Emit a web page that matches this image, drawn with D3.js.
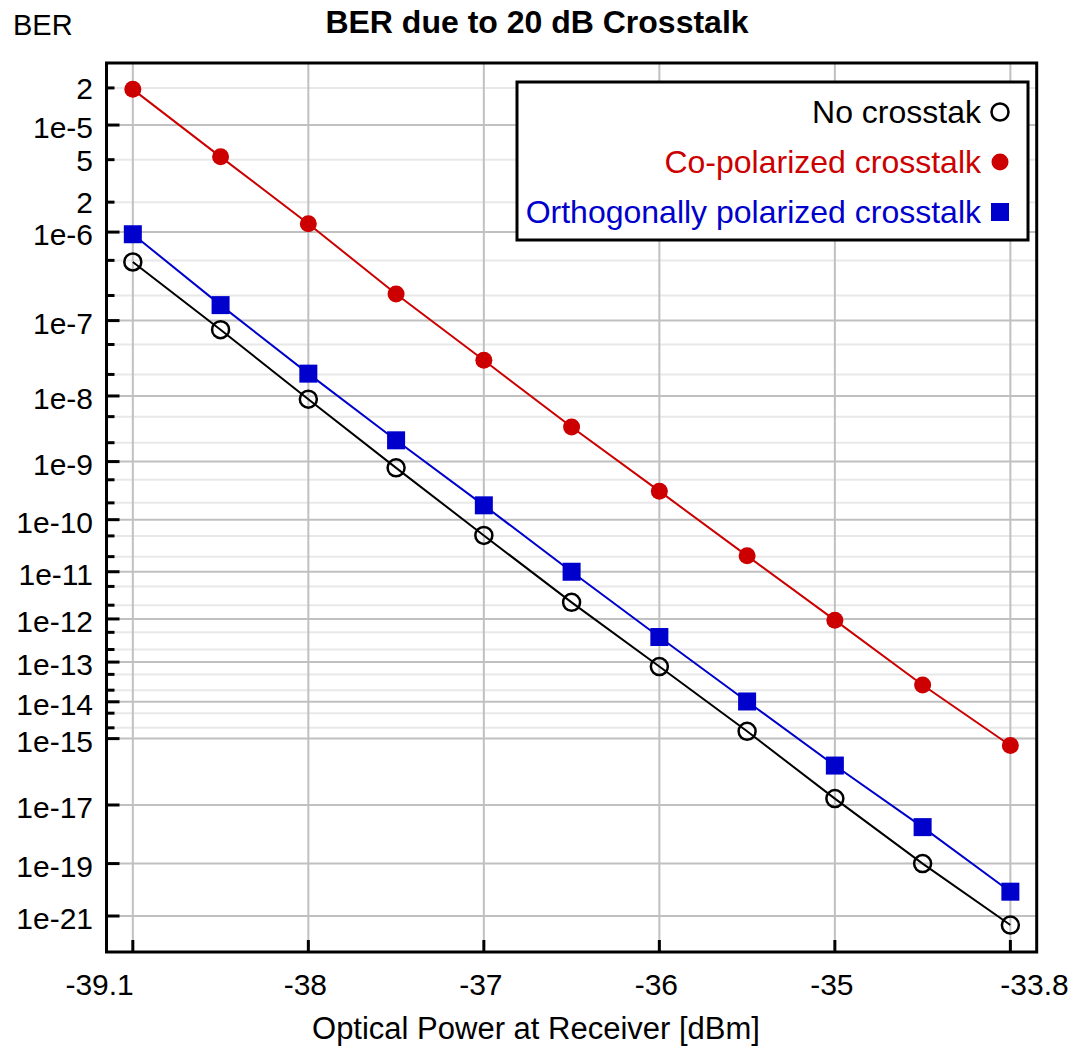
<!DOCTYPE html>
<html>
<head>
<meta charset="utf-8">
<script src="https://cdn.jsdelivr.net/npm/d3@7"></script>
<style>
  body { margin: 0; background: #fff; }
  svg { display: block; font-family: "Liberation Sans", Arial, sans-serif; }
</style>
</head>
<body>
<div id="chart"></div>
<script>
// optical power at receiver [dBm]
const powers = [-39, -38.5, -38, -37.5, -37, -36.5, -36, -35.5, -35, -34.5, -34];

// BER
const noCrosstalk = [4.8e-7, 7.7e-8, 9.0e-9, 7.9e-10, 5.1e-11, 2.3e-12, 7.8e-14, 1.6e-15, 1.6e-17, 1.0e-19, 4.3e-22];
const coPolarized = [1.95e-5, 5.3e-6, 1.22e-6, 2.08e-7, 3.1e-8, 3.5e-9, 3.2e-10, 2.07e-11, 9.4e-13, 2.7e-14, 6.4e-16];
const orthoPolarized = [9.5e-7, 1.54e-7, 2.05e-8, 2.18e-9, 1.81e-10, 1.0e-11, 3.9e-13, 1.02e-14, 1.66e-16, 1.87e-18, 9.0e-21];

const seriesNames = ["No crosstak", "Co-polarized crosstalk", "Orthogonally polarized crosstalk"];

const xTickValues = [-39, -38, -37, -36, -35, -34];
const xTickLabels = ["-39.1", "-38", "-37", "-36", "-35", "-33.8"];

const yMajorTicks = [1e-5, 1e-6, 1e-7, 1e-8, 1e-9, 1e-10, 1e-11, 1e-12, 1e-13, 1e-14, 1e-15, 1e-17, 1e-19, 1e-21];
const yMajorLabels = ["1e-5", "1e-6", "1e-7", "1e-8", "1e-9", "1e-10", "1e-11", "1e-12", "1e-13", "1e-14", "1e-15", "1e-17", "1e-19", "1e-21"];
const yMinorTicks = [2e-5, 5e-6, 2e-6, 5e-7, 2e-7, 5e-8, 2e-8, 5e-9, 2e-9, 5e-10, 2e-10, 5e-11, 2e-11,
  5e-12, 2e-12, 5e-13, 2e-13, 5e-14, 2e-14, 5e-15, 2e-15];
const yMinorLabels = ["2", "5", "2"]; // only the first few minor ticks carry a label

const width = 1073;
const height = 1056;
const plotLeft = 106.5, plotRight = 1036.7, plotTop = 63, plotBottom = 952;

// BER axis is drawn on the Q-factor scale (log of Q), Q = -Phi^-1(BER)
// Acklam's approximation, lower tail branch (all our BER values are tiny)
function qOf(p) {
  const c = [-7.784894002430293e-03, -3.223964580411365e-01, -2.400758277161838e+00,
    -2.549732539343734e+00, 4.374664141464968e+00, 2.938163982698783e+00];
  const d = [7.784695709041462e-03, 3.224671290700398e-01, 2.445134137142996e+00,
    3.754408661907416e+00];
  const q = Math.sqrt(-2 * Math.log(p));
  const xx = (((((c[0] * q + c[1]) * q + c[2]) * q + c[3]) * q + c[4]) * q + c[5]) /
    ((((d[0] * q + d[1]) * q + d[2]) * q + d[3]) * q + 1);
  return -xx;
}

const x = d3.scaleLinear().domain([-39.15, -33.85]).range([plotLeft, plotRight]);
const yq = d3.scaleLog().domain([4.005, 9.858]).range([plotTop, plotBottom]);
const y = (ber) => yq(qOf(ber));

const svg = d3
  .select("#chart")
  .append("svg")
  .attr("width", width)
  .attr("height", height);

svg.append("rect").attr("width", width).attr("height", height).attr("fill", "#fff");

// grid
const grid = svg.append("g");
grid
  .selectAll("line.minor")
  .data(yMinorTicks)
  .join("line")
  .attr("class", "minor")
  .attr("x1", plotLeft).attr("x2", plotRight)
  .attr("y1", (d) => y(d)).attr("y2", (d) => y(d))
  .attr("stroke", "#e8e8e8")
  .attr("stroke-width", 2);
grid
  .selectAll("line.major")
  .data(yMajorTicks)
  .join("line")
  .attr("class", "major")
  .attr("x1", plotLeft).attr("x2", plotRight)
  .attr("y1", (d) => y(d)).attr("y2", (d) => y(d))
  .attr("stroke", "#c0c0c0")
  .attr("stroke-width", 2);
grid
  .selectAll("line.vert")
  .data(xTickValues)
  .join("line")
  .attr("class", "vert")
  .attr("x1", (d) => x(d)).attr("x2", (d) => x(d))
  .attr("y1", plotTop).attr("y2", plotBottom)
  .attr("stroke", "#c0c0c0")
  .attr("stroke-width", 2);

// ticks, drawn inside the frame
const ticks = svg.append("g").attr("stroke", "#000").attr("stroke-width", 3);
ticks.selectAll("line.ymaj").data(yMajorTicks).join("line")
  .attr("class", "ymaj")
  .attr("x1", plotLeft).attr("x2", plotLeft + 13)
  .attr("y1", (d) => y(d)).attr("y2", (d) => y(d));
ticks.selectAll("line.ymin").data(yMinorTicks).join("line")
  .attr("class", "ymin")
  .attr("x1", plotLeft).attr("x2", plotLeft + 8)
  .attr("y1", (d) => y(d)).attr("y2", (d) => y(d));
ticks.selectAll("line.xt").data(xTickValues).join("line")
  .attr("class", "xt")
  .attr("x1", (d) => x(d)).attr("x2", (d) => x(d))
  .attr("y1", plotBottom).attr("y2", plotBottom - 12);

// tick labels
const labels = svg.append("g").attr("font-size", 30).attr("fill", "#000");
labels.selectAll("text.ymaj").data(yMajorTicks).join("text")
  .attr("class", "ymaj")
  .attr("x", 93)
  .attr("y", (d) => y(d) + 13)
  .attr("text-anchor", "end")
  .text((d, i) => yMajorLabels[i]);
labels.selectAll("text.ymin").data(yMinorTicks.slice(0, yMinorLabels.length)).join("text")
  .attr("class", "ymin")
  .attr("x", 93)
  .attr("y", (d) => y(d) + 11)
  .attr("text-anchor", "end")
  .text((d, i) => yMinorLabels[i]);
labels.selectAll("text.xt").data(xTickValues).join("text")
  .attr("class", "xt")
  .attr("x", (d, i) => (i == 0 ? x(d) + 1 : i == xTickValues.length - 1 ? x(d) - 10 : x(d) - 3))
  .attr("y", 995)
  .attr("text-anchor", (d, i) => (i == 0 ? "end" : i == xTickValues.length - 1 ? "start" : "middle"))
  .text((d, i) => xTickLabels[i]);

// series
const line = d3.line().x((d) => x(d[0])).y((d) => y(d[1]));
const series = [
  { values: noCrosstalk, color: "#000000", marker: "open" },
  { values: coPolarized, color: "#cc0000", marker: "dot" },
  { values: orthoPolarized, color: "#0000cc", marker: "square" },
];

function drawMarker(g, kind, color) {
  if (kind == "open") {
    g.append("circle").attr("r", 8.5).attr("fill", "none").attr("stroke", color).attr("stroke-width", 2.5);
  } else if (kind == "dot") {
    g.append("circle").attr("r", 8.5).attr("fill", color);
  } else {
    g.append("rect").attr("x", -9).attr("y", -9).attr("width", 18).attr("height", 18).attr("fill", color);
  }
}

for (const s of series) {
  const pts = powers.map((p, i) => [p, s.values[i]]);
  svg.append("path")
    .datum(pts)
    .attr("fill", "none")
    .attr("stroke", s.color)
    .attr("stroke-width", 2)
    .attr("d", line);
  svg.append("g")
    .selectAll("g")
    .data(pts)
    .join("g")
    .attr("transform", (d) => `translate(${x(d[0])},${y(d[1])})`)
    .each(function () {
      drawMarker(d3.select(this), s.marker, s.color);
    });
}

// frame
svg.append("rect")
  .attr("x", plotLeft).attr("y", plotTop)
  .attr("width", plotRight - plotLeft).attr("height", plotBottom - plotTop)
  .attr("fill", "none").attr("stroke", "#000").attr("stroke-width", 3);

// legend
const legend = svg.append("g");
legend.append("rect")
  .attr("x", 517).attr("y", 82).attr("width", 511).attr("height", 158)
  .attr("fill", "#fff").attr("stroke", "#000").attr("stroke-width", 3);
series.forEach((s, i) => {
  const cy = 112 + i * 50;
  legend.append("text")
    .attr("x", 981).attr("y", cy + 11)
    .attr("text-anchor", "end")
    .attr("font-size", 32)
    .attr("fill", s.color)
    .text(seriesNames[i]);
  const mg = legend.append("g").attr("transform", `translate(1000,${cy})`);
  drawMarker(mg, s.marker, s.color);
});

// titles
svg.append("text")
  .attr("x", 537).attr("y", 33)
  .attr("text-anchor", "middle")
  .attr("font-size", 32)
  .attr("font-weight", "bold")
  .text("BER due to 20 dB Crosstalk");
svg.append("text")
  .attr("x", 13).attr("y", 35)
  .attr("font-size", 29)
  .text("BER");
svg.append("text")
  .attr("x", 536).attr("y", 1039)
  .attr("text-anchor", "middle")
  .attr("font-size", 31)
  .text("Optical Power at Receiver [dBm]");
</script>
</body>
</html>
